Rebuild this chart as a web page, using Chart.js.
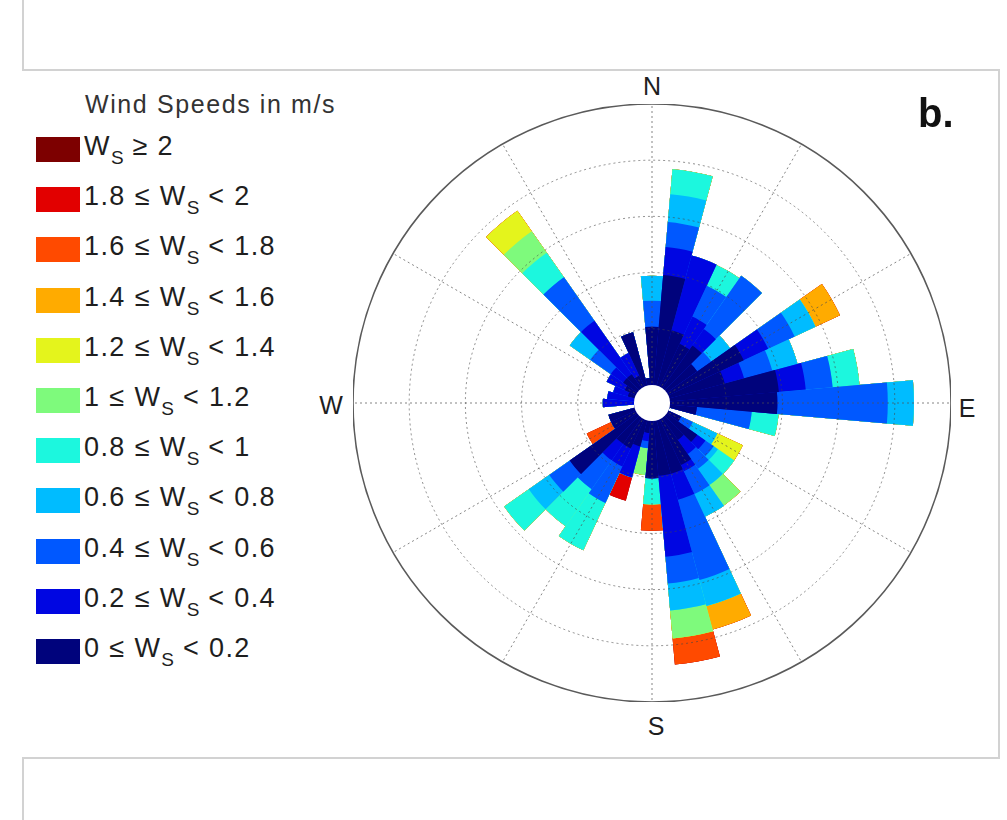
<!DOCTYPE html>
<html><head><meta charset="utf-8">
<script src="https://cdn.jsdelivr.net/npm/chart.js@4.4.1/dist/chart.umd.min.js"></script>
<style>
body{margin:0;width:1007px;height:820px;background:#fff;position:relative;overflow:hidden;font-family:"Liberation Sans",Arial,Helvetica,sans-serif;color:#1e1e1e}
.ln{position:absolute;background:#d2d2d2}
#wrap{position:absolute;left:353px;top:104px;width:598px;height:598px}
.t{position:absolute;white-space:nowrap;line-height:1}
.dir{font-size:25px;transform:translate(-50%,-50%)}
.row{position:absolute;left:36px;height:26px}
.box{position:absolute;left:0;top:0;width:44px;height:25px}
.txt{position:absolute;left:48px;top:-4px;font-size:27px;letter-spacing:1.4px;white-space:nowrap;line-height:1}
.txt sub{font-size:19px;vertical-align:-9px;line-height:0;letter-spacing:0}
</style></head><body>
<div class="ln" style="left:22px;top:0;width:2px;height:70px"></div>
<div class="ln" style="left:22px;top:69px;width:978px;height:2px"></div>
<div class="ln" style="left:998px;top:69px;width:2px;height:690px"></div>
<div class="ln" style="left:22px;top:757px;width:978px;height:2px"></div>
<div class="ln" style="left:22px;top:757px;width:2px;height:63px"></div>
<div id="wrap"><canvas id="c" width="598" height="598"></canvas></div>
<div class="t" style="left:85px;top:92px;font-size:25px;letter-spacing:1.6px;color:#333">Wind Speeds in m/s</div>
<div class="t" style="left:918px;top:93px;font-size:40px;font-weight:bold;color:#111">b.</div>
<div class="t dir" style="left:652px;top:86px">N</div>
<div class="t dir" style="left:656px;top:726px">S</div>
<div class="t dir" style="left:331px;top:405px">W</div>
<div class="t dir" style="left:967px;top:408px">E</div>
<div id="legend"></div>
<script>
// Direction categories (bar centres, clockwise from North)
const directions = ['0°','10°','20°','30°','40°','50°','60°','70°','80°','90°','100°','110°','120°','130°','140°','150°','160°','170°','180°','190°','200°','210°','220°','230°','240°','250°','260°','270°','280°','290°','300°','310°','320°','330°','340°','350°'];
// Frequency (%) per direction for each wind-speed class
const freq00 = [2.07,3.93,2.04,1.68,1.86,1.32,2.96,2.04,3.89,3.82,0.96,0,0.5,1.32,0.96,1.79,1.96,1.96,2.04,0.43,0.96,1.14,1.14,2.93,0.96,0.96,0,0,0,0.25,0.43,0.61,0.61,0.43,1.96,0.25];
const freq02 = [0,1.0,2.75,1.07,0.71,0,0.96,0.71,0.96,0,0,0,0,0.36,0.61,0.25,0.96,2.89,0,0.29,1.14,0.71,0.71,0,0,0,0,1.11,0.96,0.54,0.71,0.54,2.32,0.89,0,0];
const freq04 = [0.93,0.89,0,1.21,2.32,0.61,1.04,1.04,0.96,3.93,1.96,0,0.46,0.36,0.64,0.89,2.96,0.96,0,0.25,0,1.43,1.25,0.89,0,0,0,0,0,0,0,0.89,1.89,0,0,0];
const freq06 = [0.89,1.0,0,0,0,0.82,0.82,0.93,0,0.93,0,0,0.96,0.18,0.71,0.89,0.96,0.96,0,0,0,0,0,0.89,0,0,0,0,0,0,0,0.89,0,0,0,0];
const freq08 = [0,0.89,0,0.82,0,0,0,0,0.96,0,0.96,0,0,0.71,0,0,0,0,0.93,0,0,1.86,1.61,1.07,0,0,0,0,0,0,0,0,1.07,0,0,0];
const freq10 = [0,0,0,0,0,0,0,0,0,0,0,0,0,0,0.89,0,0,1.0,0,0.96,0,0,0,0,0,0,0,0,0,0,0,0,0.93,0,0,0];
const freq12 = [0,0,0,0,0,0,0,0,0,0,0,0,1.0,0,0,0,0,0,0,0,0,0,0,0,0,0,0,0,0,0,0,0,0.89,0,0,0];
const freq14 = [0,0,0,0,0,0,0.96,0,0,0,0,0,0,0,0,0,0.86,0,0,0,0,0,0,0,0,0,0,0,0,0,0,0,0,0,0,0];
const freq16 = [0,0,0,0,0,0,0,0,0,0,0,0,0,0,0,0,0,0.93,0.93,0,0,0,0,0,0.96,0,0,0,0,0,0,0,0,0,0,0];
const freq18 = [0,0,0,0,0,0,0,0,0,0,0,0,0,0,0,0,0,0,0,0,0.86,0,0,0,0,0,0,0,0,0,0,0,0,0,0,0];
const freq20 = [0,0,0,0,0,0,0,0,0,0,0,0,0,0,0,0,0,0,0,0,0,0,0,0,0,0,0,0,0,0,0,0,0,0,0,0];
// speed classes, low to high
const classNames = ['0 ≤ Ws < 0.2','0.2 ≤ Ws < 0.4','0.4 ≤ Ws < 0.6','0.6 ≤ Ws < 0.8','0.8 ≤ Ws < 1','1 ≤ Ws < 1.2','1.2 ≤ Ws < 1.4','1.4 ≤ Ws < 1.6','1.6 ≤ Ws < 1.8','1.8 ≤ Ws < 2','Ws ≥ 2'];
const classPre  = ['0 ≤ W','0.2 ≤ W','0.4 ≤ W','0.6 ≤ W','0.8 ≤ W','1 ≤ W','1.2 ≤ W','1.4 ≤ W','1.6 ≤ W','1.8 ≤ W','W'];
const classPost = [' < 0.2',' < 0.4',' < 0.6',' < 0.8',' < 1',' < 1.2',' < 1.4',' < 1.6',' < 1.8',' < 2',' ≥ 2'];
const classColors = ['#00037c','#0006e2','#0058ff','#00bcff','#1cf7de','#7efa7c','#e4f41c','#ffab00','#ff4a00','#e20000','#7d0000'];
// radial rings (% frequency); hole value and ring ticks
const holeValue = -0.643;
const ringValues = [2,4,6,8,10];
const spokeAngles = [0,30,60,90,120,150,180,210,240,270,300,330];

const series = [freq00,freq02,freq04,freq06,freq08,freq10,freq12,freq14,freq16,freq18,freq20];
const cumulative = [];
series.forEach((s,k)=>{ cumulative.push(s.map((v,i)=> v + (k ? cumulative[k-1][i] : 0))); });

// legend (top = highest class)
const leg = document.getElementById('legend');
for (let j = 0; j < classColors.length; j++) {
  const k = classColors.length - 1 - j;
  const row = document.createElement('div');
  row.className = 'row';
  row.style.top = (137 + j*50.2) + 'px';
  row.innerHTML = '<div class="box" style="background:'+classColors[k]+'"></div><div class="txt">'+classPre[k]+'<sub>S</sub>'+classPost[k]+'</div>';
  leg.appendChild(row);
}

const decor = {
  id:'decor',
  afterDatasetsDraw(chart){
    const s = chart.scales.r, c = chart.ctx;
    const cx = s.xCenter, cy = s.yCenter, R = s.drawingArea;
    c.save();
    c.strokeStyle = 'rgba(80,80,80,0.7)'; c.lineWidth = 1; c.setLineDash([2,3]);
    spokeAngles.forEach(a=>{
      const t = (a-90)*Math.PI/180;
      c.beginPath(); c.moveTo(cx,cy); c.lineTo(cx+R*Math.cos(t), cy+R*Math.sin(t)); c.stroke();
    });
    c.setLineDash([]);
    c.fillStyle = '#fff';
    c.beginPath(); c.arc(cx,cy,s.getDistanceFromCenterForValue(0),0,2*Math.PI); c.fill();
    c.restore();
  }
};

new Chart(document.getElementById('c'), {
  type:'polarArea',
  data:{
    labels: directions,
    datasets: cumulative.map((d,k)=>({label:classNames[k], data:d, backgroundColor:classColors[k], borderWidth:0}))
  },
  options:{
    responsive:false, animation:false,
    layout:{padding:0},
    plugins:{legend:{display:false}, tooltip:{enabled:false}},
    scales:{ r:{
      min: holeValue, max: 10, startAngle: -5,
      ticks:{display:false},
      afterBuildTicks: sc => { sc.ticks = [holeValue].concat(ringValues).map(v=>({value:v})); },
      grid:{circular:true, z:1,
        color: ctx => { const v = ctx.tick ? ctx.tick.value : 0; return v >= 10 ? '#5a5a5a' : (v > 0 ? 'rgba(70,70,70,0.6)' : 'rgba(0,0,0,0)'); },
        lineWidth: ctx => (ctx.tick && ctx.tick.value >= 10) ? 1.6 : 1 },
      border:{ dash: ctx => (ctx.tick && ctx.tick.value >= 10) ? [] : [2,3] },
      angleLines:{display:false},
      pointLabels:{display:false}
    }}
  },
  plugins:[decor]
});
</script>
</body></html>
